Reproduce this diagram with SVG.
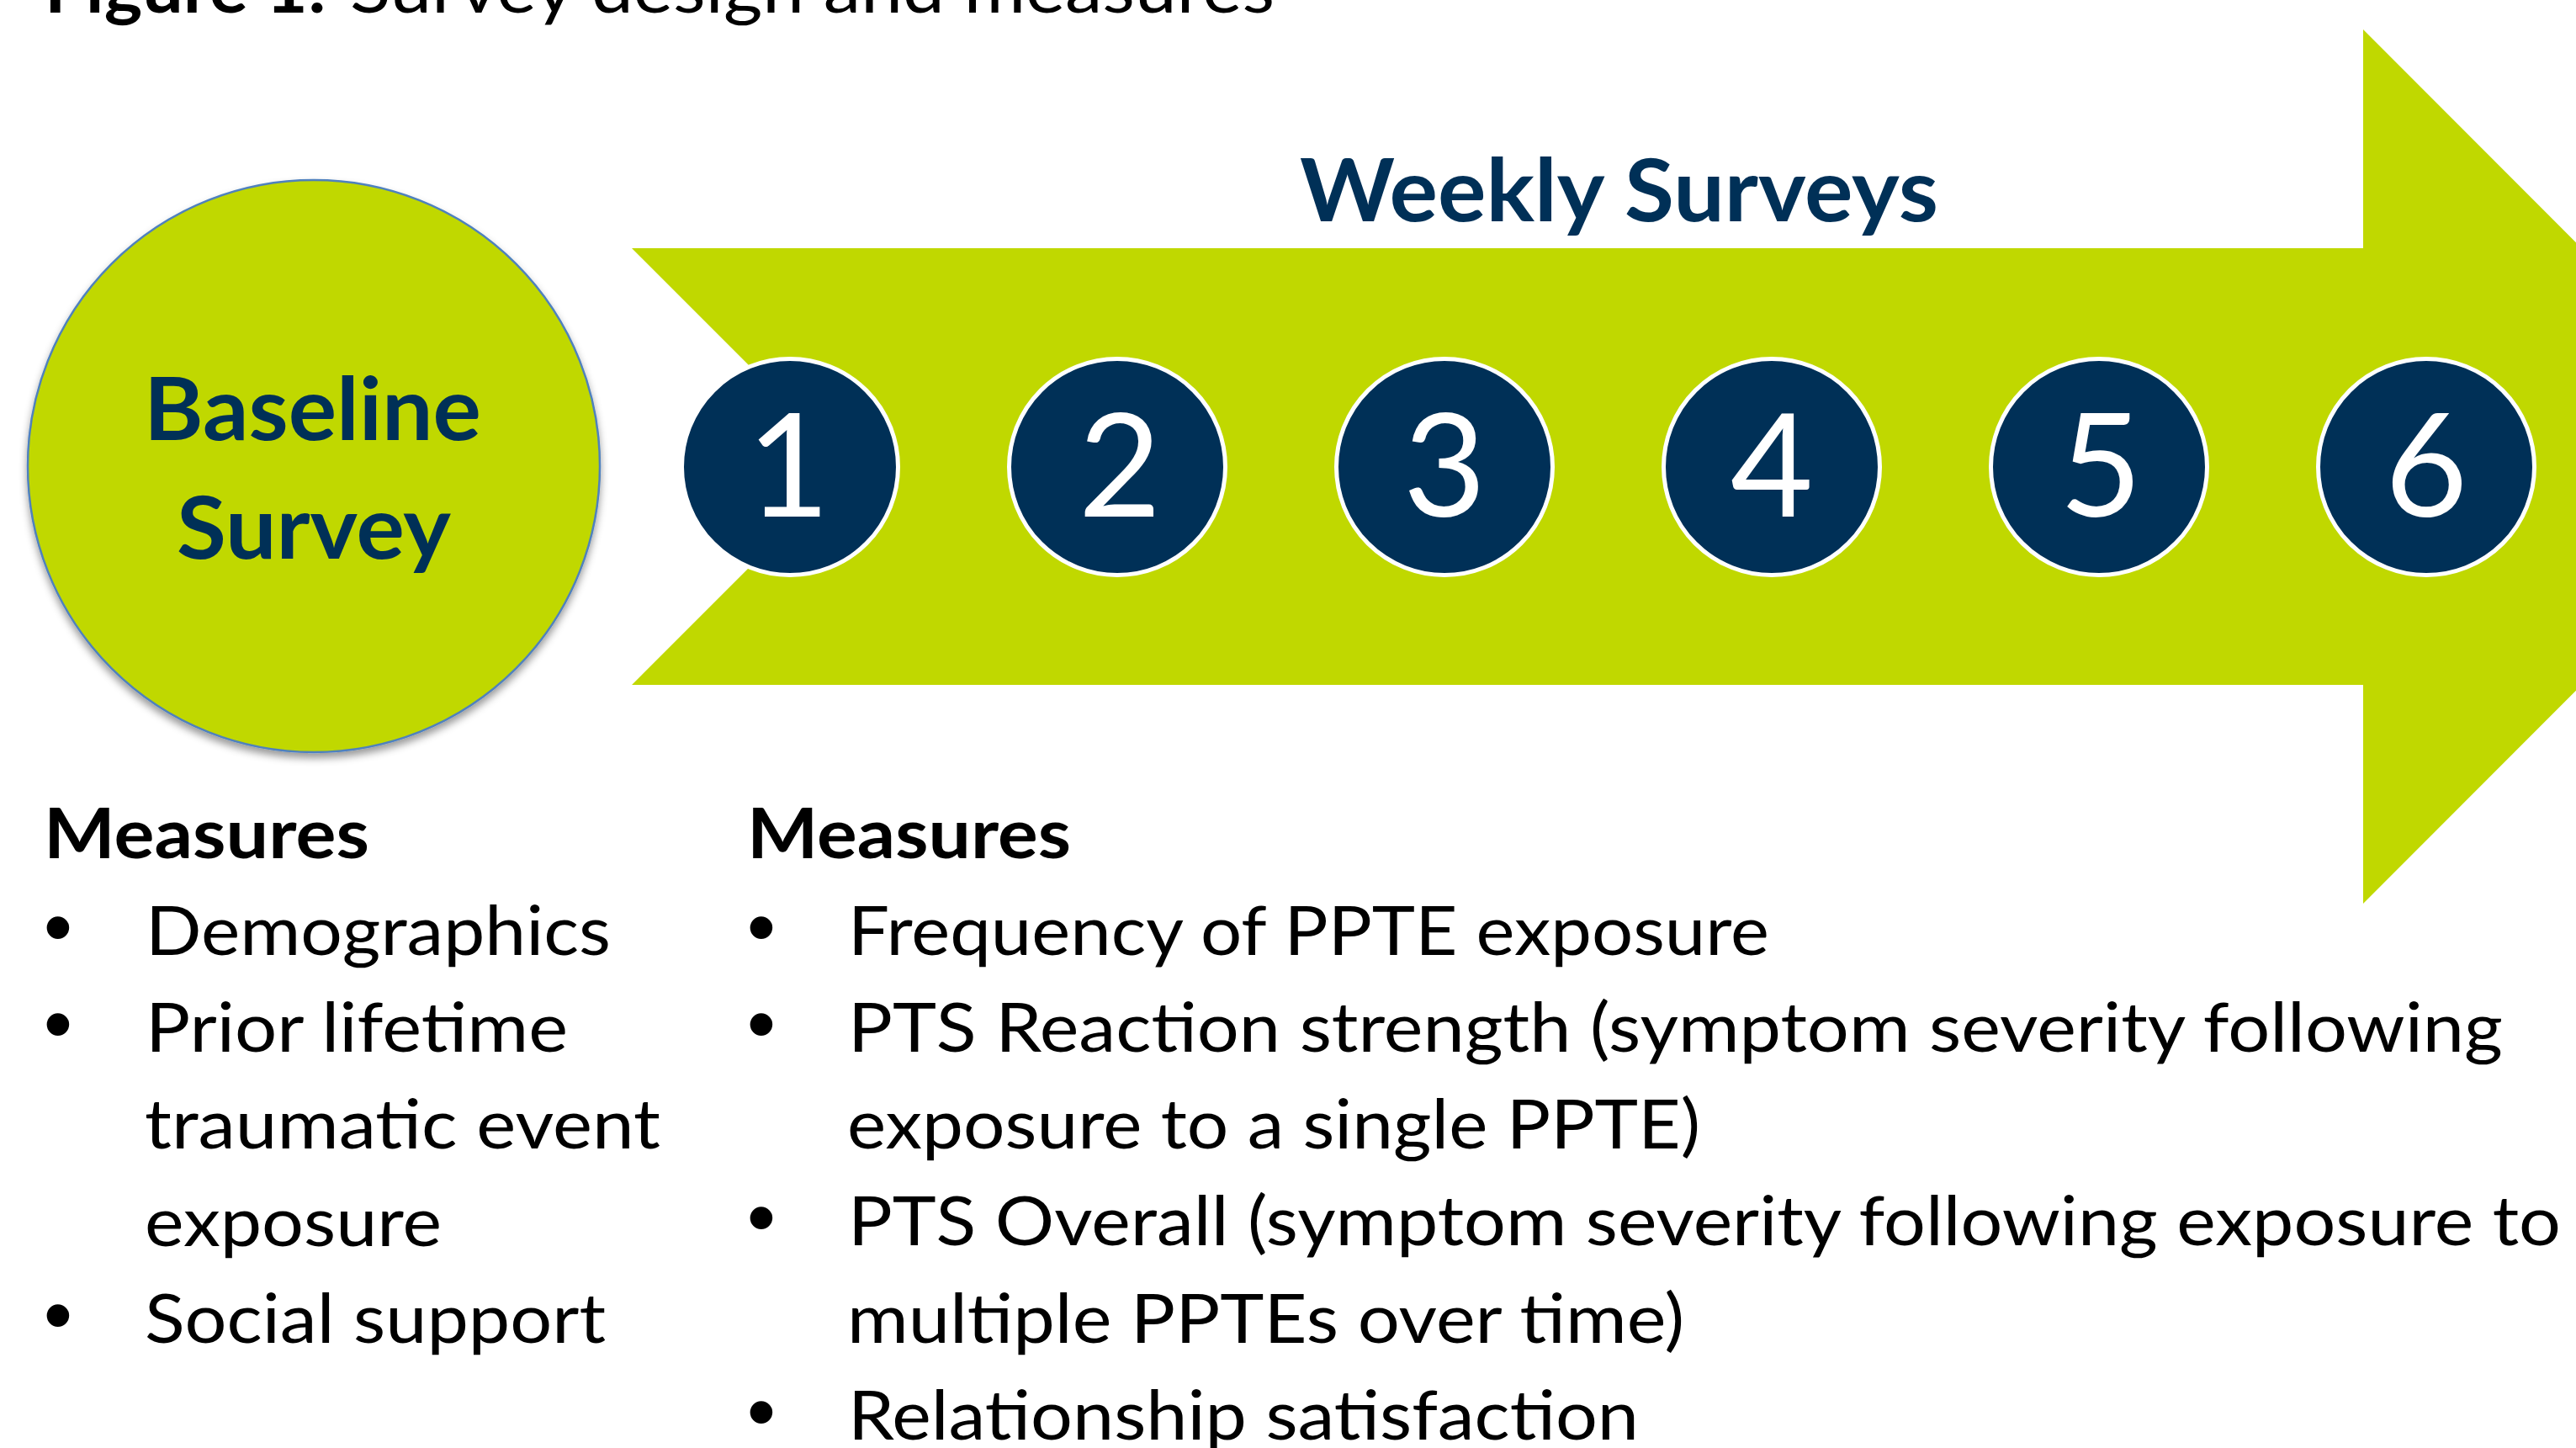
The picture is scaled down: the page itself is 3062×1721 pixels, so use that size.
<svg xmlns="http://www.w3.org/2000/svg" width="3062" height="1721" viewBox="0 0 3062 1721">
  <defs>
    <filter id="soft-shadow" x="-10%" y="-10%" width="120%" height="125%">
      <feDropShadow dx="0" dy="6" stdDeviation="5" flood-color="#000" flood-opacity="0.4"/>
    </filter>
  </defs>
  <style>
    .lime { fill: #C0D800; }
    .navy-text { fill: #003057; font-family: Lato, "Open Sans", "Liberation Sans", sans-serif; font-weight: 700; font-size: 103px; }
    .week { fill: #003057; stroke: #FFFFFF; stroke-width: 5; }
    .week-num { fill: #FFFFFF; font-family: Lato, "Open Sans", "Liberation Sans", sans-serif; font-size: 170px; text-anchor: middle; }
    .body { fill: #000000; font-family: Lato, "Open Sans", "Liberation Sans", sans-serif; font-size: 82px; }
    .head { font-weight: 700; }
    .bullet { fill: #000000; font-family: "Liberation Sans", Arial, sans-serif; font-size: 98px; text-anchor: middle; }
  </style>

  <rect width="3062" height="1721" fill="#FFFFFF"/>

  <!-- figure caption, partly above the top edge -->
  <g id="caption">
    <text class="body head" x="53" y="15" textLength="335" lengthAdjust="spacingAndGlyphs">Figure 1:</text>
    <text class="body" x="416" y="15" textLength="1099" lengthAdjust="spacingAndGlyphs">Survey design and measures</text>
  </g>

  <!-- weekly timeline band -->
  <g id="timeline-arrow">
    <polygon class="lime" points="751,295 2809,295 2809,35 3328,554.5 2809,1074 2809,814 751,814 1010.5,554.5"/>
    <text class="navy-text" x="1545" y="263" textLength="759" lengthAdjust="spacingAndGlyphs">Weekly Surveys</text>
  </g>

  <!-- baseline survey -->
  <g id="baseline-survey">
    <circle class="lime" cx="373" cy="554" r="340" stroke="#4F81BD" stroke-width="2.5" filter="url(#soft-shadow)"/>
    <text class="navy-text" x="171" y="523" textLength="401" lengthAdjust="spacingAndGlyphs">Baseline</text>
    <text class="navy-text" x="210" y="664" textLength="326" lengthAdjust="spacingAndGlyphs">Survey</text>
  </g>

  <!-- weekly survey markers -->
  <g id="week-1"><circle class="week" cx="939" cy="555" r="128.5"/><text class="week-num" x="937" y="614">1</text></g>
  <g id="week-2"><circle class="week" cx="1328" cy="555" r="128.5"/><text class="week-num" x="1331" y="614">2</text></g>
  <g id="week-3"><circle class="week" cx="1717" cy="555" r="128.5"/><text class="week-num" x="1717" y="614">3</text></g>
  <g id="week-4"><circle class="week" cx="2106" cy="555" r="128.5"/><text class="week-num" x="2106" y="614">4</text></g>
  <g id="week-5"><circle class="week" cx="2495" cy="555" r="128.5"/><text class="week-num" x="2497" y="614">5</text></g>
  <g id="week-6"><circle class="week" cx="2884" cy="555" r="128.5"/><text class="week-num" x="2884" y="614">6</text></g>

  <!-- baseline measures -->
  <g id="baseline-measures">
    <text class="body head" x="52" y="1020" textLength="387" lengthAdjust="spacingAndGlyphs">Measures</text>
    <text class="bullet" x="69" y="1135">•</text>
    <text class="body" x="173" y="1135" textLength="553" lengthAdjust="spacingAndGlyphs">Demographics</text>
    <text class="bullet" x="69" y="1250">•</text>
    <text class="body" x="173" y="1250" textLength="502" lengthAdjust="spacingAndGlyphs">Prior lifetime</text>
    <text class="body" x="172" y="1365" textLength="613" lengthAdjust="spacingAndGlyphs">traumatic event</text>
    <text class="body" x="172" y="1481" textLength="353" lengthAdjust="spacingAndGlyphs">exposure</text>
    <text class="bullet" x="69" y="1596">•</text>
    <text class="body" x="172" y="1596" textLength="548" lengthAdjust="spacingAndGlyphs">Social support</text>
  </g>

  <!-- weekly measures -->
  <g id="weekly-measures">
    <text class="body head" x="888" y="1020" textLength="385" lengthAdjust="spacingAndGlyphs">Measures</text>
    <text class="bullet" x="905" y="1135">•</text>
    <text class="body" x="1008" y="1135" textLength="1095" lengthAdjust="spacingAndGlyphs">Frequency of PPTE exposure</text>
    <text class="bullet" x="905" y="1250">•</text>
    <text class="body" x="1008" y="1250" textLength="1967" lengthAdjust="spacingAndGlyphs">PTS Reaction strength (symptom severity following</text>
    <text class="body" x="1007" y="1365" textLength="1014" lengthAdjust="spacingAndGlyphs">exposure to a single PPTE)</text>
    <text class="bullet" x="905" y="1480">•</text>
    <text class="body" x="1008" y="1480" textLength="2036" lengthAdjust="spacingAndGlyphs">PTS Overall (symptom severity following exposure to</text>
    <text class="body" x="1007" y="1596" textLength="995" lengthAdjust="spacingAndGlyphs">multiple PPTEs over time)</text>
    <text class="bullet" x="905" y="1711">•</text>
    <text class="body" x="1008" y="1711" textLength="940" lengthAdjust="spacingAndGlyphs">Relationship satisfaction</text>
  </g>
</svg>
